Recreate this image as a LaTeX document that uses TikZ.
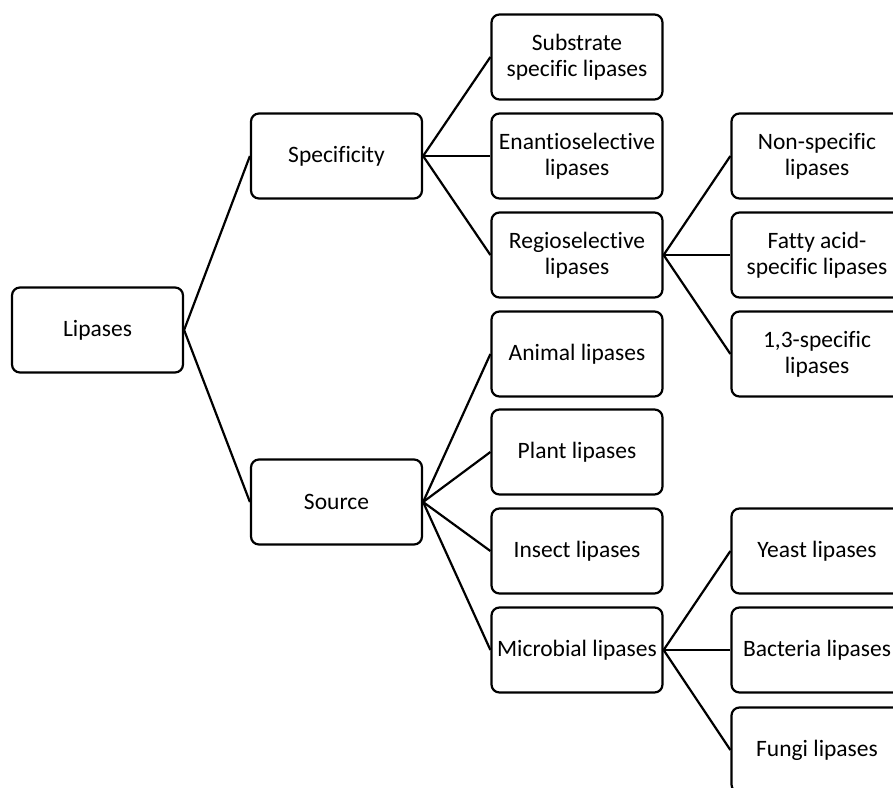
\documentclass[tikz,border=0pt]{standalone}
\usepackage{fontspec}
\setmainfont{Carlito}[Ligatures=NoCommon]
\begin{document}
\begin{tikzpicture}[x=1pt, y=-1pt,
    box/.style={draw, line width=2.2pt, rounded corners=8pt, fill=white,
        minimum width=171pt, minimum height=85pt, inner sep=1pt,
        align=center, font=\fontsize{23.5}{26}\selectfont},
    link/.style={line width=2.2pt}]
    \useasboundingbox (0,0) rectangle (893,787);
    \clip (0,0) rectangle (893,787);

    \node[box] (lip) at (97.5,330) {Lipases};
    \node[box] (spec) at (336.5,156) {Specificity};
    \node[box] (src) at (336.5,502) {Source};

    \node[box] (subs) at (577,57) {Substrate\\specific lipases};
    \node[box] (enan) at (577,156) {Enantioselective\\lipases};
    \node[box] (regio) at (577,255) {Regioselective\\lipases};
    \node[box] (anim) at (577,354) {Animal lipases};
    \node[box] (plant) at (577,452) {Plant lipases};
    \node[box] (insect) at (577,551) {Insect lipases};
    \node[box] (micro) at (577,650) {Microbial lipases};

    \node[box] (nonspec) at (817,156) {Non-specific\\lipases};
    \node[box] (fatty) at (817,255) {Fatty acid-\\specific lipases};
    \node[box] (onethree) at (817,354) {1,3-specific\\lipases};
    \node[box] (yeast) at (817,551) {Yeast lipases};
    \node[box] (bact) at (817,650) {Bacteria lipases};
    \node[box] (fungi) at (817,750) {Fungi lipases};

    \foreach \a/\b in {lip/spec, lip/src,
        spec/subs, spec/enan, spec/regio,
        src/anim, src/plant, src/insect, src/micro,
        regio/nonspec, regio/fatty, regio/onethree,
        micro/yeast, micro/bact, micro/fungi}
        \draw[link] (\a.east) -- (\b.west);
\end{tikzpicture}
\end{document}
